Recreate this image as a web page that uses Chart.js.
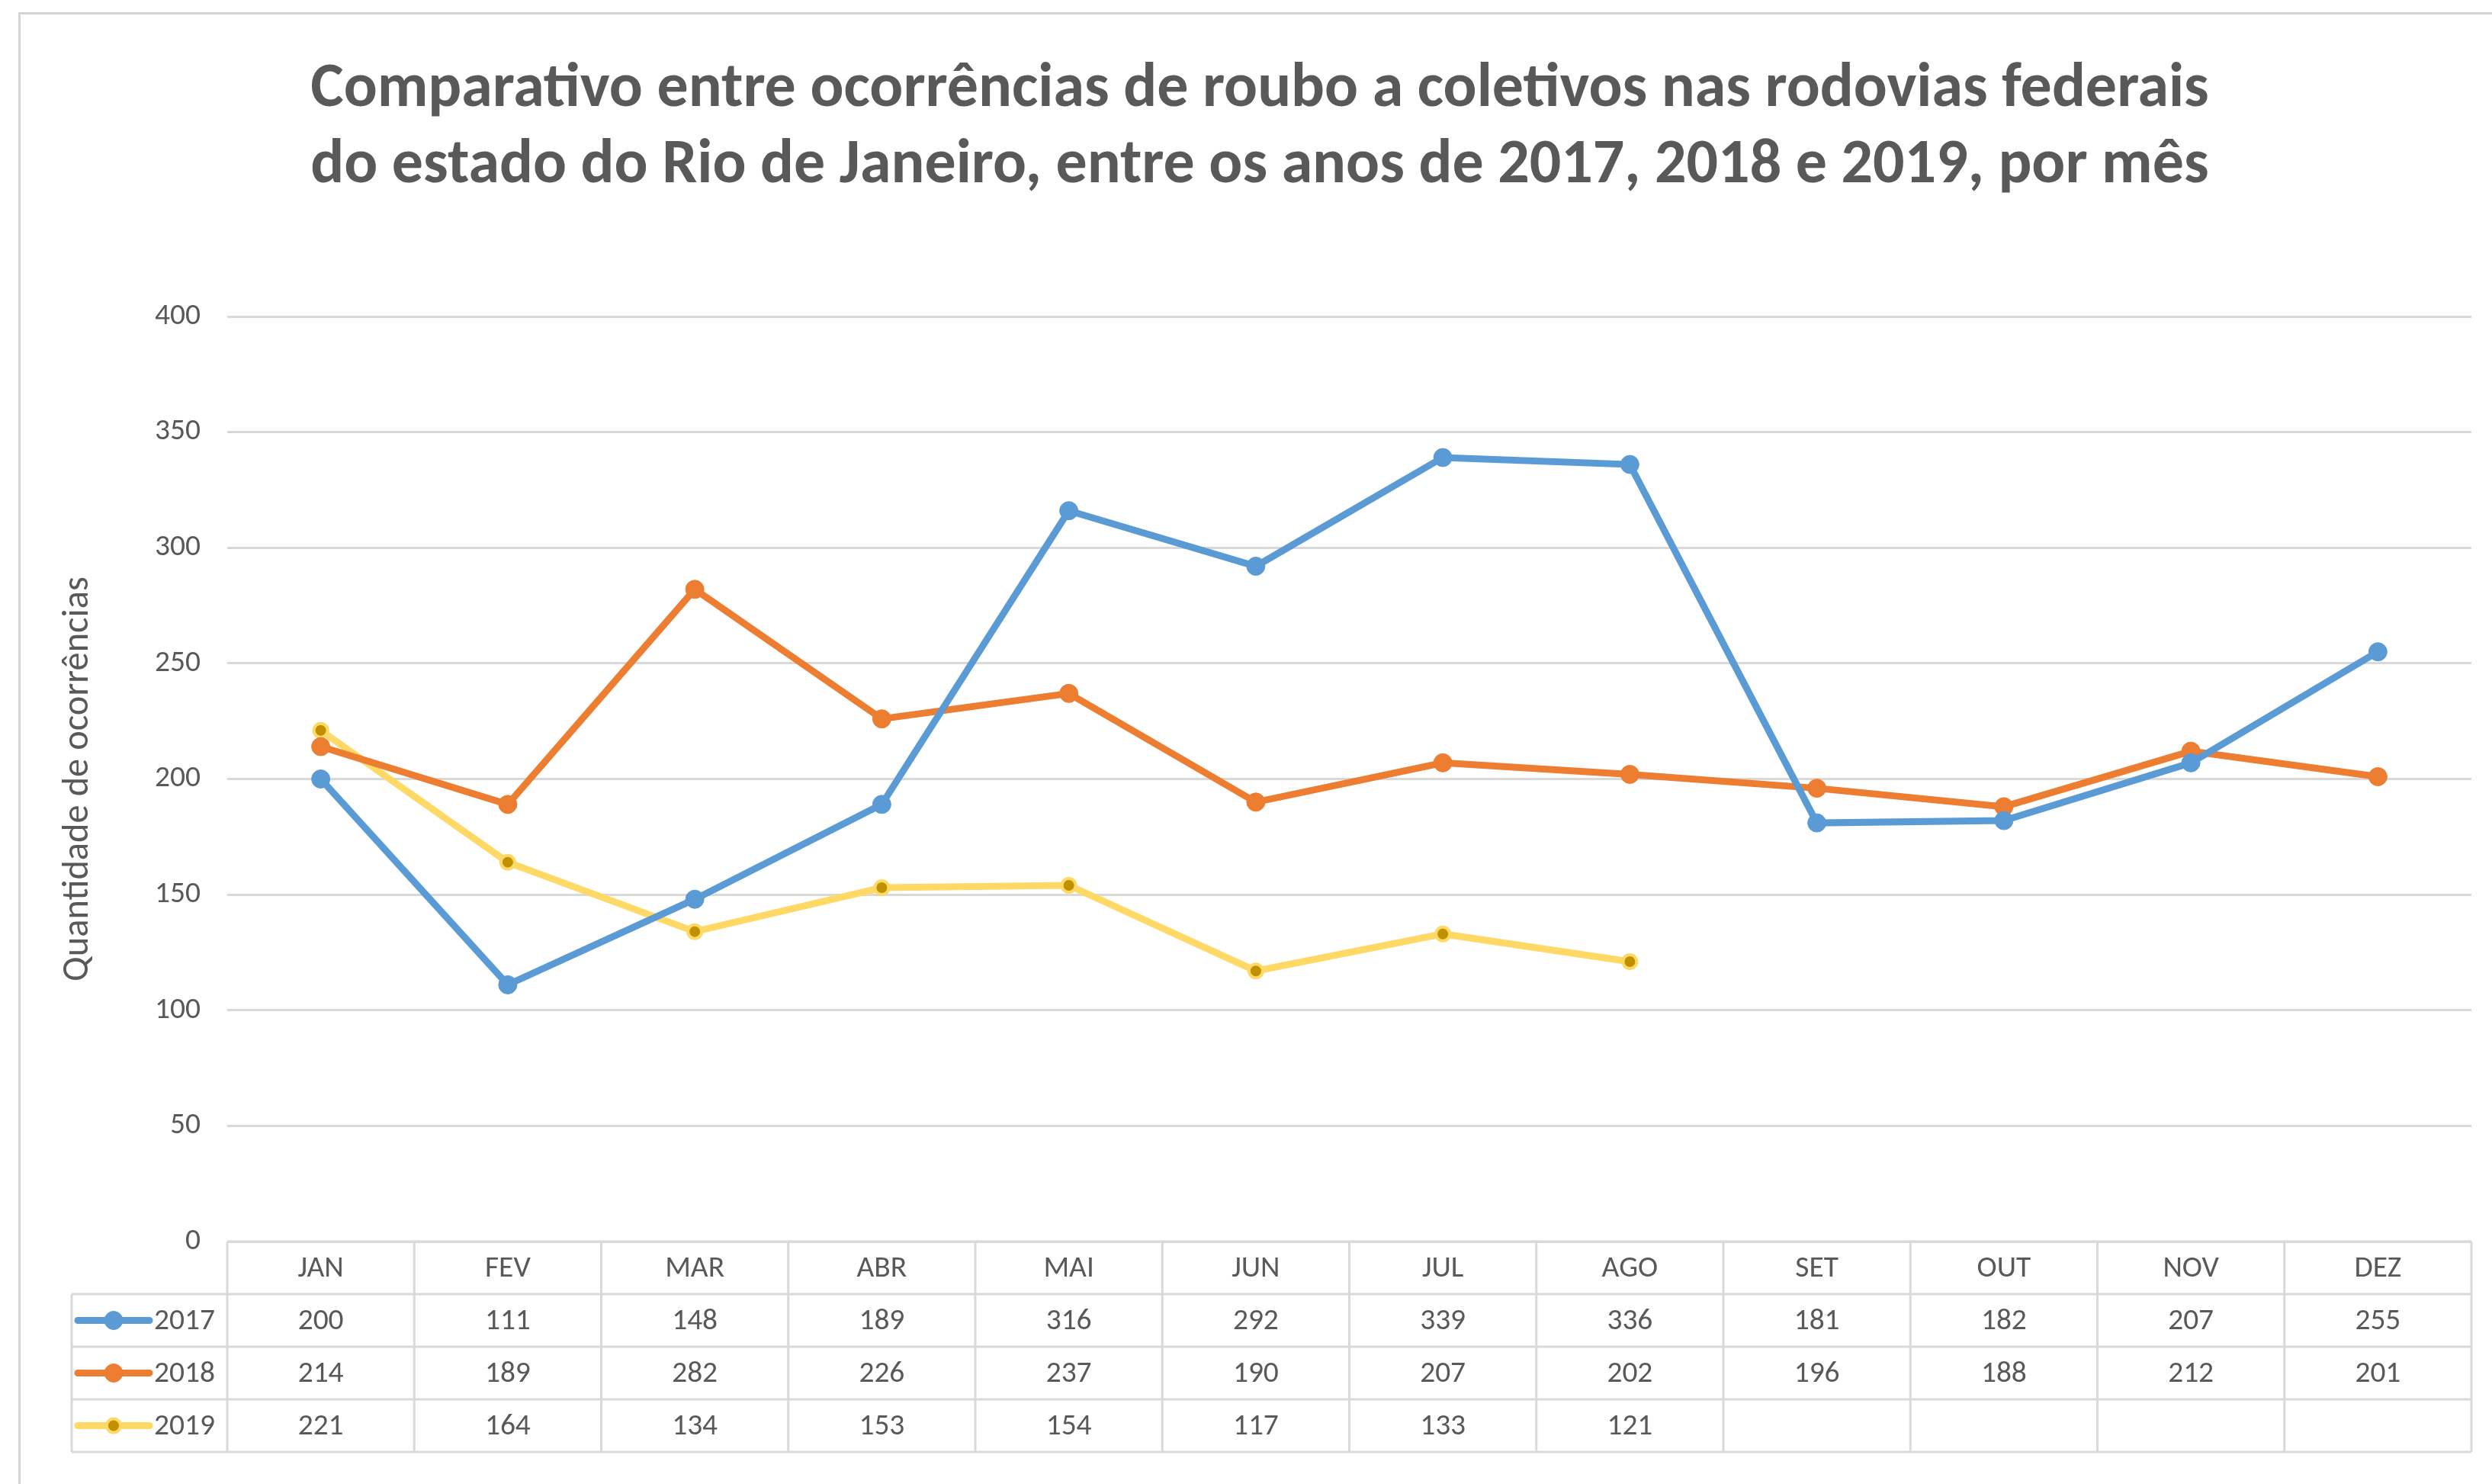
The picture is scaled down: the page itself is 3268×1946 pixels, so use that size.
<!DOCTYPE html>
<html>
<head>
<meta charset="utf-8">
<script src="https://cdn.jsdelivr.net/npm/chart.js@4.4.1/dist/chart.umd.min.js"></script>
<style>
    html, body { margin: 0; padding: 0; background: #fff; overflow: hidden; }
    #frame { position: absolute; left: 24px; top: 16px; width: 3300px; height: 1960px;
             border-left: 3px solid #d4d4d4; border-top: 3px solid #d4d4d4; }
    #grafico { position: absolute; left: 0; top: 0; }
</style>
</head>
<body>
<div id="frame"></div>
<canvas id="grafico" width="3268" height="1946"></canvas>
<script>
// Dados
const meses = ['JAN', 'FEV', 'MAR', 'ABR', 'MAI', 'JUN', 'JUL', 'AGO', 'SET', 'OUT', 'NOV', 'DEZ'];
const anos = ['2017', '2018', '2019'];
const roubos2017 = [200, 111, 148, 189, 316, 292, 339, 336, 181, 182, 207, 255];
const roubos2018 = [214, 189, 282, 226, 237, 190, 207, 202, 196, 188, 212, 201];
const roubos2019 = [221, 164, 134, 153, 154, 117, 133, 121, null, null, null, null];
const yMin = 0, yMax = 400, yStep = 50;

const tituloLinhas = [
    'Comparativo entre ocorrências de roubo a coletivos nas rodovias federais',
    'do estado do Rio de Janeiro, entre os anos de 2017, 2018 e 2019, por mês'
];
const tituloEixoY = 'Quantidade de ocorrências';

const FONTE = "Carlito, 'Liberation Sans Narrow', 'Open Sans', sans-serif";
const CINZA = '#595959';
const LINHA_GRADE = '#d9d9d9';

// Helpers
function fitSize(text, weight, target) {
    const ctx = document.createElement('canvas').getContext('2d');
    ctx.font = `${weight} 100px ${FONTE}`;
    return 100 * target / ctx.measureText(text).width;
}

const tamTitulo = fitSize(tituloLinhas[0], 'bold', 2490);
const tamEixoY = fitSize(tituloEixoY, 'normal', 531);
const tamNum = fitSize('400', 'normal', 60);

const series = [
    { ano: anos[0], dados: roubos2017, cor: '#5B9BD5', ponto: '#5B9BD5', borda: '#5B9BD5', raio: 12, bw: 1 },
    { ano: anos[1], dados: roubos2018, cor: '#ED7D31', ponto: '#ED7D31', borda: '#ED7D31', raio: 12, bw: 1 },
    { ano: anos[2], dados: roubos2019, cor: '#FFD966', ponto: '#BF9000', borda: '#FFD966', raio: 9, bw: 4 }
];

// tabela de dados abaixo do gráfico
const tabelaPlugin = {
    id: 'tabelaDados',
    afterDraw(chart) {
        const { ctx, chartArea } = chart;
        const x = chart.scales.x;
        const half = (x.getPixelForValue(1) - x.getPixelForValue(0)) / 2;
        const left = x.getPixelForValue(0) - half;
        const right = x.getPixelForValue(meses.length - 1) + half;
        const top = chartArea.bottom;
        const rowH = 69;
        const legLeft = 94;
        const bottom = top + rowH * 4;

        ctx.save();
        ctx.strokeStyle = LINHA_GRADE;
        ctx.lineWidth = 3;
        ctx.beginPath();
        ctx.moveTo(left, top); ctx.lineTo(right, top);
        for (let r = 1; r <= 4; r++) {
            ctx.moveTo(legLeft, top + r * rowH); ctx.lineTo(right, top + r * rowH);
        }
        for (let i = 0; i <= meses.length; i++) {
            const bx = left + i * half * 2;
            ctx.moveTo(bx, top); ctx.lineTo(bx, bottom);
        }
        ctx.moveTo(legLeft, top + rowH); ctx.lineTo(legLeft, bottom);
        ctx.stroke();

        ctx.fillStyle = CINZA;
        ctx.font = `normal ${tamNum}px ${FONTE}`;
        ctx.textAlign = 'center';
        ctx.textBaseline = 'middle';
        meses.forEach((m, i) => ctx.fillText(m, x.getPixelForValue(i), top + rowH / 2 + 2));

        series.forEach((s, r) => {
            const cy = top + rowH * (r + 1) + rowH / 2 + 2;
            s.dados.forEach((v, i) => {
                if (v !== null) ctx.fillText(String(v), x.getPixelForValue(i), cy);
            });
            // chave da legenda
            ctx.strokeStyle = s.cor;
            ctx.lineWidth = 9;
            ctx.lineCap = 'round';
            ctx.beginPath();
            ctx.moveTo(102, cy - 2); ctx.lineTo(196, cy - 2);
            ctx.stroke();
            ctx.beginPath();
            ctx.arc(149, cy - 2, s.raio, 0, Math.PI * 2);
            ctx.fillStyle = s.ponto;
            ctx.fill();
            ctx.lineWidth = s.bw;
            ctx.strokeStyle = s.borda;
            ctx.stroke();
            ctx.fillStyle = CINZA;
            ctx.textAlign = 'left';
            ctx.fillText(s.ano, 202, cy);
            ctx.textAlign = 'center';
        });
        ctx.restore();
    }
};

new Chart(document.getElementById('grafico').getContext('2d'), {
    type: 'line',
    data: {
        labels: meses,
        datasets: series.map(s => ({
            label: s.ano,
            data: s.dados,
            borderColor: s.cor,
            backgroundColor: s.ponto,
            pointBackgroundColor: s.ponto,
            pointBorderColor: s.borda,
            pointBorderWidth: s.bw,
            pointRadius: s.raio,
            borderWidth: 9,
            tension: 0,
            fill: false
        }))
    },
    options: {
        responsive: false,
        animation: false,
        devicePixelRatio: 1,
        layout: { padding: { left: 63, right: 27, top: 0, bottom: 318 } },
        plugins: {
            legend: { display: false },
            tooltip: { enabled: false },
            title: {
                display: true,
                text: tituloLinhas,
                color: CINZA,
                font: { family: FONTE, size: tamTitulo, weight: 'bold', lineHeight: 100 / tamTitulo },
                padding: { top: 69, bottom: 146 }
            }
        },
        scales: {
            x: { display: false, offset: true },
            y: {
                min: yMin, max: yMax,
                ticks: { stepSize: yStep, color: CINZA, padding: 35, font: { family: FONTE, size: tamNum } },
                grid: { color: LINHA_GRADE, lineWidth: 3, drawTicks: false },
                border: { display: false },
                title: {
                    display: true,
                    text: tituloEixoY,
                    color: CINZA,
                    font: { family: FONTE, size: tamEixoY },
                    padding: { top: 11, bottom: 0 }
                },
                afterFit(scale) { scale.width = 235; }
            }
        }
    },
    plugins: [tabelaPlugin]
});
</script>
</body>
</html>
